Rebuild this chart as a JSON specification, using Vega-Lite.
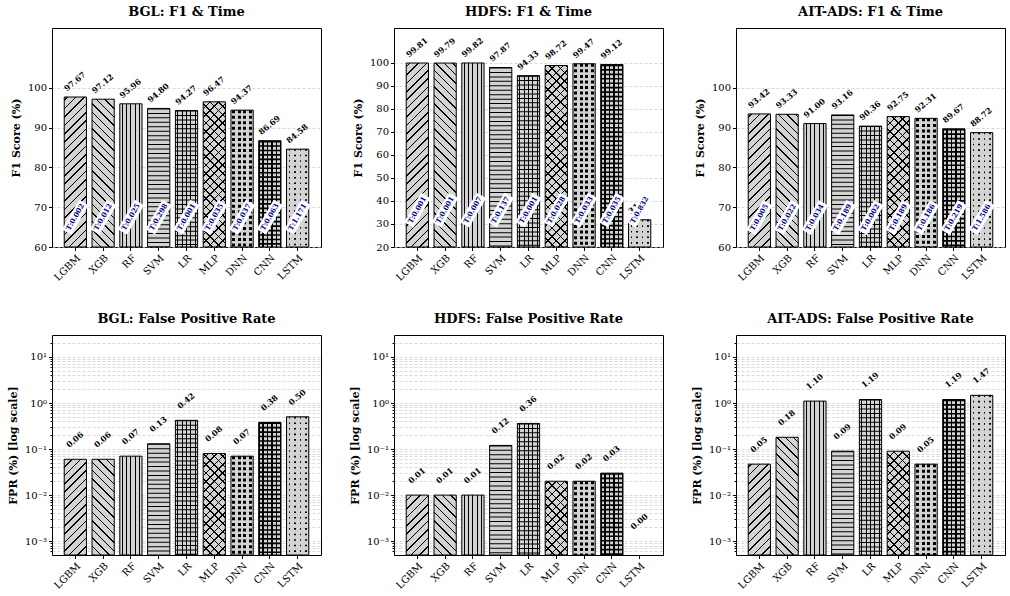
{
"$schema": "https://vega.github.io/schema/vega-lite/v6.json",
"padding": {"left": 6, "top": 5, "right": 0, "bottom": 0},
"params": [
{"name": "dS", "value": [
{"offset":0,"color":"#000"},{"offset":0.007,"color":"#000"},{"offset":0.007,"color":"#0000"},{"offset":0.04,"color":"#0000"},
{"offset":0.04,"color":"#000"},{"offset":0.047,"color":"#000"},{"offset":0.047,"color":"#0000"},{"offset":0.08,"color":"#0000"},
{"offset":0.08,"color":"#000"},{"offset":0.087,"color":"#000"},{"offset":0.087,"color":"#0000"},{"offset":0.12,"color":"#0000"},
{"offset":0.12,"color":"#000"},{"offset":0.127,"color":"#000"},{"offset":0.127,"color":"#0000"},{"offset":0.16,"color":"#0000"},
{"offset":0.16,"color":"#000"},{"offset":0.167,"color":"#000"},{"offset":0.167,"color":"#0000"},{"offset":0.2,"color":"#0000"},
{"offset":0.2,"color":"#000"},{"offset":0.207,"color":"#000"},{"offset":0.207,"color":"#0000"},{"offset":0.24,"color":"#0000"},
{"offset":0.24,"color":"#000"},{"offset":0.247,"color":"#000"},{"offset":0.247,"color":"#0000"},{"offset":0.28,"color":"#0000"},
{"offset":0.28,"color":"#000"},{"offset":0.287,"color":"#000"},{"offset":0.287,"color":"#0000"},{"offset":0.32,"color":"#0000"},
{"offset":0.32,"color":"#000"},{"offset":0.327,"color":"#000"},{"offset":0.327,"color":"#0000"},{"offset":0.36,"color":"#0000"},
{"offset":0.36,"color":"#000"},{"offset":0.367,"color":"#000"},{"offset":0.367,"color":"#0000"},{"offset":0.4,"color":"#0000"},
{"offset":0.4,"color":"#000"},{"offset":0.407,"color":"#000"},{"offset":0.407,"color":"#0000"},{"offset":0.44,"color":"#0000"},
{"offset":0.44,"color":"#000"},{"offset":0.447,"color":"#000"},{"offset":0.447,"color":"#0000"},{"offset":0.48,"color":"#0000"},
{"offset":0.48,"color":"#000"},{"offset":0.487,"color":"#000"},{"offset":0.487,"color":"#0000"},{"offset":0.52,"color":"#0000"},
{"offset":0.52,"color":"#000"},{"offset":0.527,"color":"#000"},{"offset":0.527,"color":"#0000"},{"offset":0.56,"color":"#0000"},
{"offset":0.56,"color":"#000"},{"offset":0.567,"color":"#000"},{"offset":0.567,"color":"#0000"},{"offset":0.6,"color":"#0000"},
{"offset":0.6,"color":"#000"},{"offset":0.607,"color":"#000"},{"offset":0.607,"color":"#0000"},{"offset":0.64,"color":"#0000"},
{"offset":0.64,"color":"#000"},{"offset":0.647,"color":"#000"},{"offset":0.647,"color":"#0000"},{"offset":0.68,"color":"#0000"},
{"offset":0.68,"color":"#000"},{"offset":0.687,"color":"#000"},{"offset":0.687,"color":"#0000"},{"offset":0.72,"color":"#0000"},
{"offset":0.72,"color":"#000"},{"offset":0.727,"color":"#000"},{"offset":0.727,"color":"#0000"},{"offset":0.76,"color":"#0000"},
{"offset":0.76,"color":"#000"},{"offset":0.767,"color":"#000"},{"offset":0.767,"color":"#0000"},{"offset":0.8,"color":"#0000"},
{"offset":0.8,"color":"#000"},{"offset":0.807,"color":"#000"},{"offset":0.807,"color":"#0000"},{"offset":0.84,"color":"#0000"},
{"offset":0.84,"color":"#000"},{"offset":0.847,"color":"#000"},{"offset":0.847,"color":"#0000"},{"offset":0.88,"color":"#0000"},
{"offset":0.88,"color":"#000"},{"offset":0.887,"color":"#000"},{"offset":0.887,"color":"#0000"},{"offset":0.92,"color":"#0000"},
{"offset":0.92,"color":"#000"},{"offset":0.927,"color":"#000"},{"offset":0.927,"color":"#0000"},{"offset":0.96,"color":"#0000"},
{"offset":0.96,"color":"#000"},{"offset":0.967,"color":"#000"},{"offset":0.967,"color":"#0000"},{"offset":1,"color":"#0000"}
]},
{"name": "gV", "value": {"gradient":"linear","x1":0,"y1":0,"x2":1,"y2":0,"stops":[
{"offset":0,"color":"#0000"},{"offset":0.0775,"color":"#0000"},{"offset":0.0775,"color":"#000"},{"offset":0.1225,"color":"#000"},{"offset":0.1225,"color":"#0000"},
{"offset":0.2775,"color":"#0000"},{"offset":0.2775,"color":"#000"},{"offset":0.3225,"color":"#000"},{"offset":0.3225,"color":"#0000"},
{"offset":0.4775,"color":"#0000"},{"offset":0.4775,"color":"#000"},{"offset":0.5225,"color":"#000"},{"offset":0.5225,"color":"#0000"},
{"offset":0.6775,"color":"#0000"},{"offset":0.6775,"color":"#000"},{"offset":0.7225,"color":"#000"},{"offset":0.7225,"color":"#0000"},
{"offset":0.8775,"color":"#0000"},{"offset":0.8775,"color":"#000"},{"offset":0.9225,"color":"#000"},{"offset":0.9225,"color":"#0000"},{"offset":1,"color":"#0000"}]}},
{"name": "gD", "value": {"gradient":"linear","x1":0,"y1":0,"x2":1,"y2":0,"stops":[
{"offset":0,"color":"#d3d3d3"},{"offset":0.0575,"color":"#d3d3d3"},{"offset":0.0575,"color":"#0000"},{"offset":0.1925,"color":"#0000"},{"offset":0.1925,"color":"#d3d3d3"},
{"offset":0.3075,"color":"#d3d3d3"},{"offset":0.3075,"color":"#0000"},{"offset":0.4425,"color":"#0000"},{"offset":0.4425,"color":"#d3d3d3"},
{"offset":0.5575,"color":"#d3d3d3"},{"offset":0.5575,"color":"#0000"},{"offset":0.6925,"color":"#0000"},{"offset":0.6925,"color":"#d3d3d3"},
{"offset":0.8075,"color":"#d3d3d3"},{"offset":0.8075,"color":"#0000"},{"offset":0.9425,"color":"#0000"},{"offset":0.9425,"color":"#d3d3d3"},{"offset":1,"color":"#d3d3d3"}]}},
{"name": "gC", "value": {"gradient":"linear","x1":0,"y1":0,"x2":1,"y2":0,"stops":[
{"offset":0,"color":"#000"},{"offset":0.037,"color":"#000"},{"offset":0.037,"color":"#0000"},{"offset":0.163,"color":"#0000"},{"offset":0.163,"color":"#000"},
{"offset":0.237,"color":"#000"},{"offset":0.237,"color":"#0000"},{"offset":0.363,"color":"#0000"},{"offset":0.363,"color":"#000"},
{"offset":0.437,"color":"#000"},{"offset":0.437,"color":"#0000"},{"offset":0.563,"color":"#0000"},{"offset":0.563,"color":"#000"},
{"offset":0.637,"color":"#000"},{"offset":0.637,"color":"#0000"},{"offset":0.763,"color":"#0000"},{"offset":0.763,"color":"#000"},
{"offset":0.837,"color":"#000"},{"offset":0.837,"color":"#0000"},{"offset":0.963,"color":"#0000"},{"offset":0.963,"color":"#000"},{"offset":1,"color":"#000"}]}},
{"name": "gL", "value": {"gradient":"linear","x1":0,"y1":0,"x2":1,"y2":0,"stops":[
{"offset":0,"color":"#d3d3d3"},{"offset":0.089,"color":"#d3d3d3"},{"offset":0.089,"color":"#0000"},{"offset":0.161,"color":"#0000"},{"offset":0.161,"color":"#d3d3d3"},
{"offset":0.339,"color":"#d3d3d3"},{"offset":0.339,"color":"#0000"},{"offset":0.411,"color":"#0000"},{"offset":0.411,"color":"#d3d3d3"},
{"offset":0.589,"color":"#d3d3d3"},{"offset":0.589,"color":"#0000"},{"offset":0.661,"color":"#0000"},{"offset":0.661,"color":"#d3d3d3"},
{"offset":0.839,"color":"#d3d3d3"},{"offset":0.839,"color":"#0000"},{"offset":0.911,"color":"#0000"},{"offset":0.911,"color":"#d3d3d3"},{"offset":1,"color":"#d3d3d3"}]}}
],
"data": {"values": [
{"ds":"BGL","model":"LGBM","f1":97.67,"t":0.002,"fpr":0.06},
{"ds":"BGL","model":"XGB","f1":97.12,"t":0.012,"fpr":0.06},
{"ds":"BGL","model":"RF","f1":95.96,"t":0.025,"fpr":0.07},
{"ds":"BGL","model":"SVM","f1":94.80,"t":0.298,"fpr":0.13},
{"ds":"BGL","model":"LR","f1":94.27,"t":0.001,"fpr":0.42},
{"ds":"BGL","model":"MLP","f1":96.47,"t":0.035,"fpr":0.08},
{"ds":"BGL","model":"DNN","f1":94.37,"t":0.037,"fpr":0.07},
{"ds":"BGL","model":"CNN","f1":86.69,"t":0.063,"fpr":0.38},
{"ds":"BGL","model":"LSTM","f1":84.58,"t":1.171,"fpr":0.50},
{"ds":"HDFS","model":"LGBM","f1":99.81,"t":0.001,"fpr":0.01},
{"ds":"HDFS","model":"XGB","f1":99.79,"t":0.001,"fpr":0.01},
{"ds":"HDFS","model":"RF","f1":99.82,"t":0.007,"fpr":0.01},
{"ds":"HDFS","model":"SVM","f1":97.87,"t":0.137,"fpr":0.12},
{"ds":"HDFS","model":"LR","f1":94.33,"t":0.001,"fpr":0.36},
{"ds":"HDFS","model":"MLP","f1":98.72,"t":0.028,"fpr":0.02},
{"ds":"HDFS","model":"DNN","f1":99.47,"t":0.033,"fpr":0.02},
{"ds":"HDFS","model":"CNN","f1":99.12,"t":0.035,"fpr":0.03},
{"ds":"HDFS","model":"LSTM","f1":31.80,"t":0.832,"fpr":0},
{"ds":"AIT","model":"LGBM","f1":93.42,"t":0.005,"fpr":0.047},
{"ds":"AIT","model":"XGB","f1":93.33,"t":0.022,"fpr":0.18},
{"ds":"AIT","model":"RF","f1":91.00,"t":0.034,"fpr":1.10},
{"ds":"AIT","model":"SVM","f1":93.16,"t":0.189,"fpr":0.09},
{"ds":"AIT","model":"LR","f1":90.36,"t":0.002,"fpr":1.19},
{"ds":"AIT","model":"MLP","f1":92.75,"t":0.189,"fpr":0.09},
{"ds":"AIT","model":"DNN","f1":92.31,"t":0.186,"fpr":0.047},
{"ds":"AIT","model":"CNN","f1":89.67,"t":0.219,"fpr":1.19},
{"ds":"AIT","model":"LSTM","f1":88.72,"t":1.586,"fpr":1.47}
]},
"columns": 3,
"bounds": "flush",
"spacing": {"row": 88, "column": 73},
"concat": [
{
"title": "BGL: F1 & Time", "width": 269, "height": 219,
"transform": [{"filter": "datum.ds === 'BGL'"}],
"encoding": {
"x": {"field":"model","type":"nominal","sort":["LGBM","XGB","RF","SVM","LR","MLP","DNN","CNN","LSTM"],"scale":{"paddingInner":0.2,"paddingOuter":0.44},"axis":{"title":null}},
"y": {"field":"f1","type":"quantitative","title":"F1 Score (%)","scale":{"domain":[60,115],"zero":false,"nice":false},"axis":{"values":[60,70,80,90,100]}},
"y2": {"datum": 60}
},
"layer": [
{"mark": {"type":"bar","fill":"#d3d3d3"}},
{"transform":[{"filter":{"field":"model","oneOf":["SVM","LR","DNN","CNN","LSTM"]}}],"mark":{"type":"rule","strokeWidth":22.23,"stroke":"black"},"encoding":{"strokeDash":{"field":"model","type":"nominal","scale":{"domain":["SVM","LR","DNN","CNN","LSTM"],"range":[[1,3.45],[1,3.45],[3,2.56],[1.65,2.8],[1.6,3.96]]},"legend":null}}},
{"transform":[{"filter":{"field":"model","oneOf":["RF","LR","DNN","CNN","LSTM"]}}],"mark":{"type":"bar","fill":{"expr":"datum.model === 'DNN' ? gD : datum.model === 'CNN' ? gC : datum.model === 'LSTM' ? gL : gV"}}},
{"transform":[{"filter":{"field":"model","oneOf":["LGBM","MLP"]}}],"mark":{"type":"bar","fill":{"expr":"{gradient:'linear',x1:1,y1:1,x2:1-4668/(494.2+pow((datum.f1-60)*3.9818,2)),y2:1-210*(datum.f1-60)*3.9818/(494.2+pow((datum.f1-60)*3.9818,2)),stops:dS}"}}},
{"transform":[{"filter":{"field":"model","oneOf":["XGB","MLP"]}}],"mark":{"type":"bar","fill":{"expr":"{gradient:'linear',x1:0,y1:1,x2:4668/(494.2+pow((datum.f1-60)*3.9818,2)),y2:1-210*(datum.f1-60)*3.9818/(494.2+pow((datum.f1-60)*3.9818,2)),stops:dS}"}}},
{"mark": {"type":"bar","filled":false,"stroke":"black","strokeWidth":1}},
{"mark": {"type":"text","angle":320,"fontSize":8,"fontWeight":"bold","fill":"black","align":"center","baseline":"middle","yOffset":-15},"encoding":{"text":{"field":"f1","format":".2f"}}},
{"mark": {"type":"point","shape":"M-1,-0.32H1V0.32H-1Z","size":1156,"angle":300,"filled":true,"fill":"white","opacity":1,"strokeWidth":0},"encoding":{"y":{"datum":67.5}}},
{"transform":[{"calculate":"'T:' + format(datum.t, '.3f')","as":"lab"}],"mark":{"type":"text","angle":300,"fontSize":7,"fontWeight":"bold","fill":"#00008b","align":"center","baseline":"middle"},"encoding":{"y":{"datum":67.5},"text":{"field":"lab"}}}
]
},
{
"title": "HDFS: F1 & Time", "width": 269, "height": 219,
"transform": [{"filter": "datum.ds === 'HDFS'"}],
"encoding": {
"x": {"field":"model","type":"nominal","sort":["LGBM","XGB","RF","SVM","LR","MLP","DNN","CNN","LSTM"],"scale":{"paddingInner":0.2,"paddingOuter":0.44},"axis":{"title":null}},
"y": {"field":"f1","type":"quantitative","title":"F1 Score (%)","scale":{"domain":[20,115],"zero":false,"nice":false},"axis":{"values":[20,30,40,50,60,70,80,90,100]}},
"y2": {"datum": 20}
},
"layer": [
{"mark": {"type":"bar","fill":"#d3d3d3"}},
{"transform":[{"filter":{"field":"model","oneOf":["SVM","LR","DNN","CNN","LSTM"]}}],"mark":{"type":"rule","strokeWidth":22.23,"stroke":"black"},"encoding":{"strokeDash":{"field":"model","type":"nominal","scale":{"domain":["SVM","LR","DNN","CNN","LSTM"],"range":[[1,3.45],[1,3.45],[3,2.56],[1.65,2.8],[1.6,3.96]]},"legend":null}}},
{"transform":[{"filter":{"field":"model","oneOf":["RF","LR","DNN","CNN","LSTM"]}}],"mark":{"type":"bar","fill":{"expr":"datum.model === 'DNN' ? gD : datum.model === 'CNN' ? gC : datum.model === 'LSTM' ? gL : gV"}}},
{"transform":[{"filter":{"field":"model","oneOf":["LGBM","MLP"]}}],"mark":{"type":"bar","fill":{"expr":"{gradient:'linear',x1:1,y1:1,x2:1-4668/(494.2+pow((datum.f1-20)*2.3053,2)),y2:1-210*(datum.f1-20)*2.3053/(494.2+pow((datum.f1-20)*2.3053,2)),stops:dS}"}}},
{"transform":[{"filter":{"field":"model","oneOf":["XGB","MLP"]}}],"mark":{"type":"bar","fill":{"expr":"{gradient:'linear',x1:0,y1:1,x2:4668/(494.2+pow((datum.f1-20)*2.3053,2)),y2:1-210*(datum.f1-20)*2.3053/(494.2+pow((datum.f1-20)*2.3053,2)),stops:dS}"}}},
{"mark": {"type":"bar","filled":false,"stroke":"black","strokeWidth":1}},
{"mark": {"type":"text","angle":320,"fontSize":8,"fontWeight":"bold","fill":"black","align":"center","baseline":"middle","yOffset":-15},"encoding":{"text":{"field":"f1","format":".2f"}}},
{"mark": {"type":"point","shape":"M-1,-0.32H1V0.32H-1Z","size":1156,"angle":300,"filled":true,"fill":"white","opacity":1,"strokeWidth":0},"encoding":{"y":{"datum":36}}},
{"transform":[{"calculate":"'T:' + format(datum.t, '.3f')","as":"lab"}],"mark":{"type":"text","angle":300,"fontSize":7,"fontWeight":"bold","fill":"#00008b","align":"center","baseline":"middle"},"encoding":{"y":{"datum":36},"text":{"field":"lab"}}}
]
},
{
"title": "AIT-ADS: F1 & Time", "width": 269, "height": 219,
"transform": [{"filter": "datum.ds === 'AIT'"}],
"encoding": {
"x": {"field":"model","type":"nominal","sort":["LGBM","XGB","RF","SVM","LR","MLP","DNN","CNN","LSTM"],"scale":{"paddingInner":0.2,"paddingOuter":0.44},"axis":{"title":null}},
"y": {"field":"f1","type":"quantitative","title":"F1 Score (%)","scale":{"domain":[60,115],"zero":false,"nice":false},"axis":{"values":[60,70,80,90,100]}},
"y2": {"datum": 60}
},
"layer": [
{"mark": {"type":"bar","fill":"#d3d3d3"}},
{"transform":[{"filter":{"field":"model","oneOf":["SVM","LR","DNN","CNN","LSTM"]}}],"mark":{"type":"rule","strokeWidth":22.23,"stroke":"black"},"encoding":{"strokeDash":{"field":"model","type":"nominal","scale":{"domain":["SVM","LR","DNN","CNN","LSTM"],"range":[[1,3.45],[1,3.45],[3,2.56],[1.65,2.8],[1.6,3.96]]},"legend":null}}},
{"transform":[{"filter":{"field":"model","oneOf":["RF","LR","DNN","CNN","LSTM"]}}],"mark":{"type":"bar","fill":{"expr":"datum.model === 'DNN' ? gD : datum.model === 'CNN' ? gC : datum.model === 'LSTM' ? gL : gV"}}},
{"transform":[{"filter":{"field":"model","oneOf":["LGBM","MLP"]}}],"mark":{"type":"bar","fill":{"expr":"{gradient:'linear',x1:1,y1:1,x2:1-4668/(494.2+pow((datum.f1-60)*3.9818,2)),y2:1-210*(datum.f1-60)*3.9818/(494.2+pow((datum.f1-60)*3.9818,2)),stops:dS}"}}},
{"transform":[{"filter":{"field":"model","oneOf":["XGB","MLP"]}}],"mark":{"type":"bar","fill":{"expr":"{gradient:'linear',x1:0,y1:1,x2:4668/(494.2+pow((datum.f1-60)*3.9818,2)),y2:1-210*(datum.f1-60)*3.9818/(494.2+pow((datum.f1-60)*3.9818,2)),stops:dS}"}}},
{"mark": {"type":"bar","filled":false,"stroke":"black","strokeWidth":1}},
{"mark": {"type":"text","angle":320,"fontSize":8,"fontWeight":"bold","fill":"black","align":"center","baseline":"middle","yOffset":-15},"encoding":{"text":{"field":"f1","format":".2f"}}},
{"mark": {"type":"point","shape":"M-1,-0.32H1V0.32H-1Z","size":1156,"angle":300,"filled":true,"fill":"white","opacity":1,"strokeWidth":0},"encoding":{"y":{"datum":67.4}}},
{"transform":[{"calculate":"'T:' + format(datum.t, '.3f')","as":"lab"}],"mark":{"type":"text","angle":300,"fontSize":7,"fontWeight":"bold","fill":"#00008b","align":"center","baseline":"middle"},"encoding":{"y":{"datum":67.4},"text":{"field":"lab"}}}
]
},
{
"title": "BGL: False Positive Rate", "width": 269, "height": 220,
"transform": [{"filter": "datum.ds === 'BGL'"}],
"encoding": {
"x": {"field":"model","type":"nominal","sort":["LGBM","XGB","RF","SVM","LR","MLP","DNN","CNN","LSTM"],"scale":{"paddingInner":0.2,"paddingOuter":0.44},"axis":{"title":null}},
"y": {"field":"fpr","type":"quantitative","title":"FPR (%) [log scale]","scale":{"type":"log","domain":[0.0005,30],"nice":false},"axis":{"values":[0.0006,0.0007,0.0008,0.0009,0.001,0.002,0.003,0.004,0.005,0.006,0.007,0.008,0.009,0.01,0.02,0.03,0.04,0.05,0.06,0.07,0.08,0.09,0.1,0.2,0.3,0.4,0.5,0.6,0.7,0.8,0.9,1,2,3,4,5,6,7,8,9,10,20],"labelOverlap":false,"labelExpr":"datum.value === 10 ? '10¹' : datum.value === 1 ? '10⁰' : datum.value === 0.1 ? '10⁻¹' : datum.value === 0.01 ? '10⁻²' : datum.value === 0.001 ? '10⁻³' : ''","tickSize":{"condition":{"test":"datum.value === 10 || datum.value === 1 || datum.value === 0.1 || datum.value === 0.01 || datum.value === 0.001","value":3.5},"value":2}}},
"y2": {"datum": 0.0005}
},
"layer": [
{"transform":[{"filter":"datum.fpr > 0"}],"layer":[
{"mark": {"type":"bar","fill":"#d3d3d3"}},
{"transform":[{"filter":{"field":"model","oneOf":["SVM","LR","DNN","CNN","LSTM"]}}],"mark":{"type":"rule","strokeWidth":22.23,"stroke":"black"},"encoding":{"strokeDash":{"field":"model","type":"nominal","scale":{"domain":["SVM","LR","DNN","CNN","LSTM"],"range":[[1,3.45],[1,3.45],[3,2.56],[1.65,2.8],[1.6,3.96]]},"legend":null}}},
{"transform":[{"filter":{"field":"model","oneOf":["RF","LR","DNN","CNN","LSTM"]}}],"mark":{"type":"bar","fill":{"expr":"datum.model === 'DNN' ? gD : datum.model === 'CNN' ? gC : datum.model === 'LSTM' ? gL : gV"}}},
{"transform":[{"filter":{"field":"model","oneOf":["LGBM","MLP"]}}],"mark":{"type":"bar","fill":{"expr":"{gradient:'linear',x1:1,y1:1,x2:1-4668/(494.2+pow((log(datum.fpr)/LN10+3.30103)*46.043,2)),y2:1-210*(log(datum.fpr)/LN10+3.30103)*46.043/(494.2+pow((log(datum.fpr)/LN10+3.30103)*46.043,2)),stops:dS}"}}},
{"transform":[{"filter":{"field":"model","oneOf":["XGB","MLP"]}}],"mark":{"type":"bar","fill":{"expr":"{gradient:'linear',x1:0,y1:1,x2:4668/(494.2+pow((log(datum.fpr)/LN10+3.30103)*46.043,2)),y2:1-210*(log(datum.fpr)/LN10+3.30103)*46.043/(494.2+pow((log(datum.fpr)/LN10+3.30103)*46.043,2)),stops:dS}"}}},
{"mark": {"type":"bar","filled":false,"stroke":"black","strokeWidth":1}}
]},
{"transform":[{"calculate":"max(datum.fpr, 0.001)","as":"yl"}],"mark": {"type":"text","angle":320,"fontSize":8,"fontWeight":"bold","fill":"black","align":"center","baseline":"middle","yOffset":-19},"encoding":{"y":{"field":"yl","type":"quantitative","title":"FPR (%) [log scale]"},"text":{"field":"fpr","format":".2f"}}}
]
},
{
"title": "HDFS: False Positive Rate", "width": 269, "height": 220,
"transform": [{"filter": "datum.ds === 'HDFS'"}],
"encoding": {
"x": {"field":"model","type":"nominal","sort":["LGBM","XGB","RF","SVM","LR","MLP","DNN","CNN","LSTM"],"scale":{"paddingInner":0.2,"paddingOuter":0.44},"axis":{"title":null}},
"y": {"field":"fpr","type":"quantitative","title":"FPR (%) [log scale]","scale":{"type":"log","domain":[0.0005,30],"nice":false},"axis":{"values":[0.0006,0.0007,0.0008,0.0009,0.001,0.002,0.003,0.004,0.005,0.006,0.007,0.008,0.009,0.01,0.02,0.03,0.04,0.05,0.06,0.07,0.08,0.09,0.1,0.2,0.3,0.4,0.5,0.6,0.7,0.8,0.9,1,2,3,4,5,6,7,8,9,10,20],"labelOverlap":false,"labelExpr":"datum.value === 10 ? '10¹' : datum.value === 1 ? '10⁰' : datum.value === 0.1 ? '10⁻¹' : datum.value === 0.01 ? '10⁻²' : datum.value === 0.001 ? '10⁻³' : ''","tickSize":{"condition":{"test":"datum.value === 10 || datum.value === 1 || datum.value === 0.1 || datum.value === 0.01 || datum.value === 0.001","value":3.5},"value":2}}},
"y2": {"datum": 0.0005}
},
"layer": [
{"transform":[{"filter":"datum.fpr > 0"}],"layer":[
{"mark": {"type":"bar","fill":"#d3d3d3"}},
{"transform":[{"filter":{"field":"model","oneOf":["SVM","LR","DNN","CNN","LSTM"]}}],"mark":{"type":"rule","strokeWidth":22.23,"stroke":"black"},"encoding":{"strokeDash":{"field":"model","type":"nominal","scale":{"domain":["SVM","LR","DNN","CNN","LSTM"],"range":[[1,3.45],[1,3.45],[3,2.56],[1.65,2.8],[1.6,3.96]]},"legend":null}}},
{"transform":[{"filter":{"field":"model","oneOf":["RF","LR","DNN","CNN","LSTM"]}}],"mark":{"type":"bar","fill":{"expr":"datum.model === 'DNN' ? gD : datum.model === 'CNN' ? gC : datum.model === 'LSTM' ? gL : gV"}}},
{"transform":[{"filter":{"field":"model","oneOf":["LGBM","MLP"]}}],"mark":{"type":"bar","fill":{"expr":"{gradient:'linear',x1:1,y1:1,x2:1-4668/(494.2+pow((log(datum.fpr)/LN10+3.30103)*46.043,2)),y2:1-210*(log(datum.fpr)/LN10+3.30103)*46.043/(494.2+pow((log(datum.fpr)/LN10+3.30103)*46.043,2)),stops:dS}"}}},
{"transform":[{"filter":{"field":"model","oneOf":["XGB","MLP"]}}],"mark":{"type":"bar","fill":{"expr":"{gradient:'linear',x1:0,y1:1,x2:4668/(494.2+pow((log(datum.fpr)/LN10+3.30103)*46.043,2)),y2:1-210*(log(datum.fpr)/LN10+3.30103)*46.043/(494.2+pow((log(datum.fpr)/LN10+3.30103)*46.043,2)),stops:dS}"}}},
{"mark": {"type":"bar","filled":false,"stroke":"black","strokeWidth":1}}
]},
{"transform":[{"calculate":"max(datum.fpr, 0.001)","as":"yl"}],"mark": {"type":"text","angle":320,"fontSize":8,"fontWeight":"bold","fill":"black","align":"center","baseline":"middle","yOffset":-19},"encoding":{"y":{"field":"yl","type":"quantitative","title":"FPR (%) [log scale]"},"text":{"field":"fpr","format":".2f"}}}
]
},
{
"title": "AIT-ADS: False Positive Rate", "width": 269, "height": 220,
"transform": [{"filter": "datum.ds === 'AIT'"}],
"encoding": {
"x": {"field":"model","type":"nominal","sort":["LGBM","XGB","RF","SVM","LR","MLP","DNN","CNN","LSTM"],"scale":{"paddingInner":0.2,"paddingOuter":0.44},"axis":{"title":null}},
"y": {"field":"fpr","type":"quantitative","title":"FPR (%) [log scale]","scale":{"type":"log","domain":[0.0005,30],"nice":false},"axis":{"values":[0.0006,0.0007,0.0008,0.0009,0.001,0.002,0.003,0.004,0.005,0.006,0.007,0.008,0.009,0.01,0.02,0.03,0.04,0.05,0.06,0.07,0.08,0.09,0.1,0.2,0.3,0.4,0.5,0.6,0.7,0.8,0.9,1,2,3,4,5,6,7,8,9,10,20],"labelOverlap":false,"labelExpr":"datum.value === 10 ? '10¹' : datum.value === 1 ? '10⁰' : datum.value === 0.1 ? '10⁻¹' : datum.value === 0.01 ? '10⁻²' : datum.value === 0.001 ? '10⁻³' : ''","tickSize":{"condition":{"test":"datum.value === 10 || datum.value === 1 || datum.value === 0.1 || datum.value === 0.01 || datum.value === 0.001","value":3.5},"value":2}}},
"y2": {"datum": 0.0005}
},
"layer": [
{"transform":[{"filter":"datum.fpr > 0"}],"layer":[
{"mark": {"type":"bar","fill":"#d3d3d3"}},
{"transform":[{"filter":{"field":"model","oneOf":["SVM","LR","DNN","CNN","LSTM"]}}],"mark":{"type":"rule","strokeWidth":22.23,"stroke":"black"},"encoding":{"strokeDash":{"field":"model","type":"nominal","scale":{"domain":["SVM","LR","DNN","CNN","LSTM"],"range":[[1,3.45],[1,3.45],[3,2.56],[1.65,2.8],[1.6,3.96]]},"legend":null}}},
{"transform":[{"filter":{"field":"model","oneOf":["RF","LR","DNN","CNN","LSTM"]}}],"mark":{"type":"bar","fill":{"expr":"datum.model === 'DNN' ? gD : datum.model === 'CNN' ? gC : datum.model === 'LSTM' ? gL : gV"}}},
{"transform":[{"filter":{"field":"model","oneOf":["LGBM","MLP"]}}],"mark":{"type":"bar","fill":{"expr":"{gradient:'linear',x1:1,y1:1,x2:1-4668/(494.2+pow((log(datum.fpr)/LN10+3.30103)*46.043,2)),y2:1-210*(log(datum.fpr)/LN10+3.30103)*46.043/(494.2+pow((log(datum.fpr)/LN10+3.30103)*46.043,2)),stops:dS}"}}},
{"transform":[{"filter":{"field":"model","oneOf":["XGB","MLP"]}}],"mark":{"type":"bar","fill":{"expr":"{gradient:'linear',x1:0,y1:1,x2:4668/(494.2+pow((log(datum.fpr)/LN10+3.30103)*46.043,2)),y2:1-210*(log(datum.fpr)/LN10+3.30103)*46.043/(494.2+pow((log(datum.fpr)/LN10+3.30103)*46.043,2)),stops:dS}"}}},
{"mark": {"type":"bar","filled":false,"stroke":"black","strokeWidth":1}}
]},
{"transform":[{"calculate":"max(datum.fpr, 0.001)","as":"yl"}],"mark": {"type":"text","angle":320,"fontSize":8,"fontWeight":"bold","fill":"black","align":"center","baseline":"middle","yOffset":-19},"encoding":{"y":{"field":"yl","type":"quantitative","title":"FPR (%) [log scale]"},"text":{"field":"fpr","format":".2f"}}}
]
}
],
"config": {
"font": "DejaVu Serif",
"view": {"stroke": "black", "strokeWidth": 1},
"axis": {"labelFont": "DejaVu Serif", "labelFontSize": 10, "labelColor": "black", "titleFont": "DejaVu Serif", "titleFontSize": 11, "titleFontWeight": "bold", "titleColor": "black", "tickColor": "black", "tickSize": 3.5, "domain": false, "labelPadding": 2},
"axisX": {"labelAngle": -45, "labelAlign": "right", "labelBaseline": "top", "grid": false},
"axisY": {"grid": true, "gridColor": "#c8c8c8", "gridDash": [3, 2], "gridWidth": 0.7, "titlePadding": 6},
"title": {"font": "DejaVu Serif", "fontSize": 13, "fontWeight": "bold", "color": "black", "offset": 9, "anchor": "middle"}
}
}
